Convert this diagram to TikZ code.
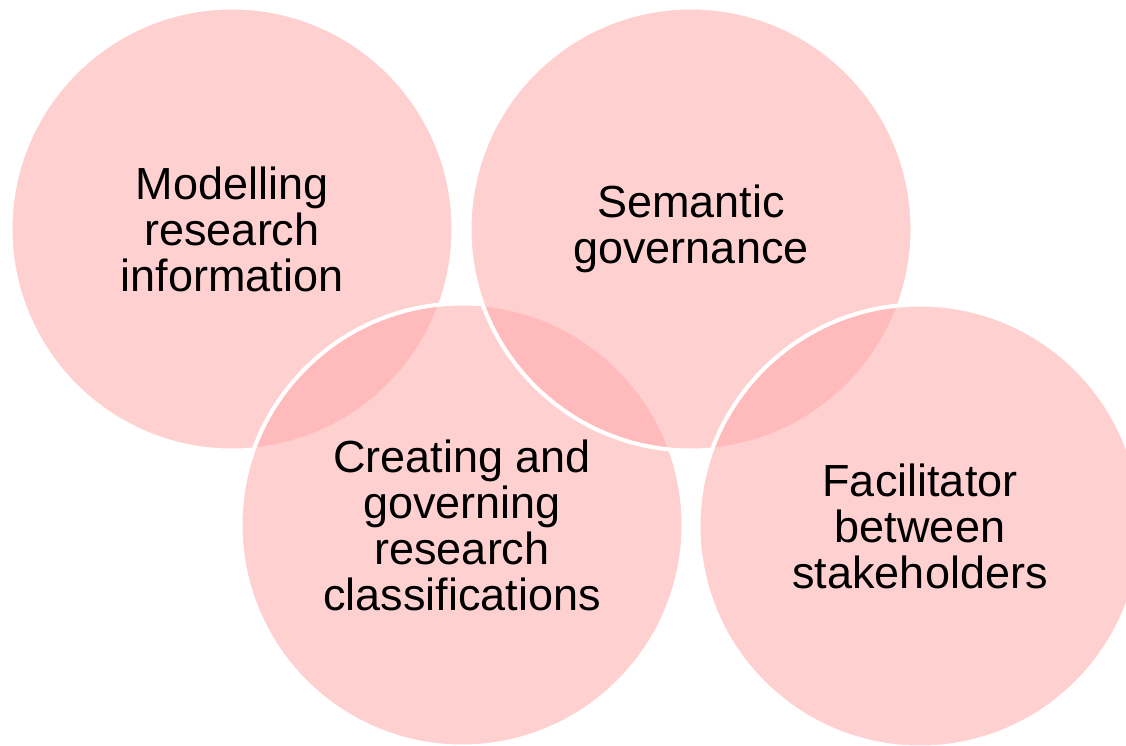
\documentclass[tikz,border=0pt]{standalone}
\usepackage{fontspec}
\setmainfont{Liberation Sans}
\begin{document}
\begin{tikzpicture}[x=1pt,y=1pt,
  bubble/.style={circle, minimum size=443pt, inner sep=0pt, fill={rgb,255:red,255;green,170;blue,170}, fill opacity=0.55, draw=white, draw opacity=1, line width=4pt},
  label/.style={align=center, text=black, font=\fontsize{45pt}{46pt}\selectfont, text opacity=1}]
\useasboundingbox (0,0) rectangle (1126,745);
\clip (0,0) rectangle (1126,745);
\node[bubble] (c1) at (232,516) {};
\node[bubble] (c3) at (462,220) {};
\node[bubble] (c2) at (691,516) {};
\node[bubble] (c4) at (920,219) {};
\node[label] (t1) at (c1.center) {Modelling\\research\\information};
\node[label] (t2) at (c2.center) {Semantic\\governance};
\node[label] (t3) at (c3.center) {Creating and\\governing\\research\\classifications};
\node[label] (t4) at (c4.center) {Facilitator\\between\\stakeholders};
\end{tikzpicture}
\end{document}
